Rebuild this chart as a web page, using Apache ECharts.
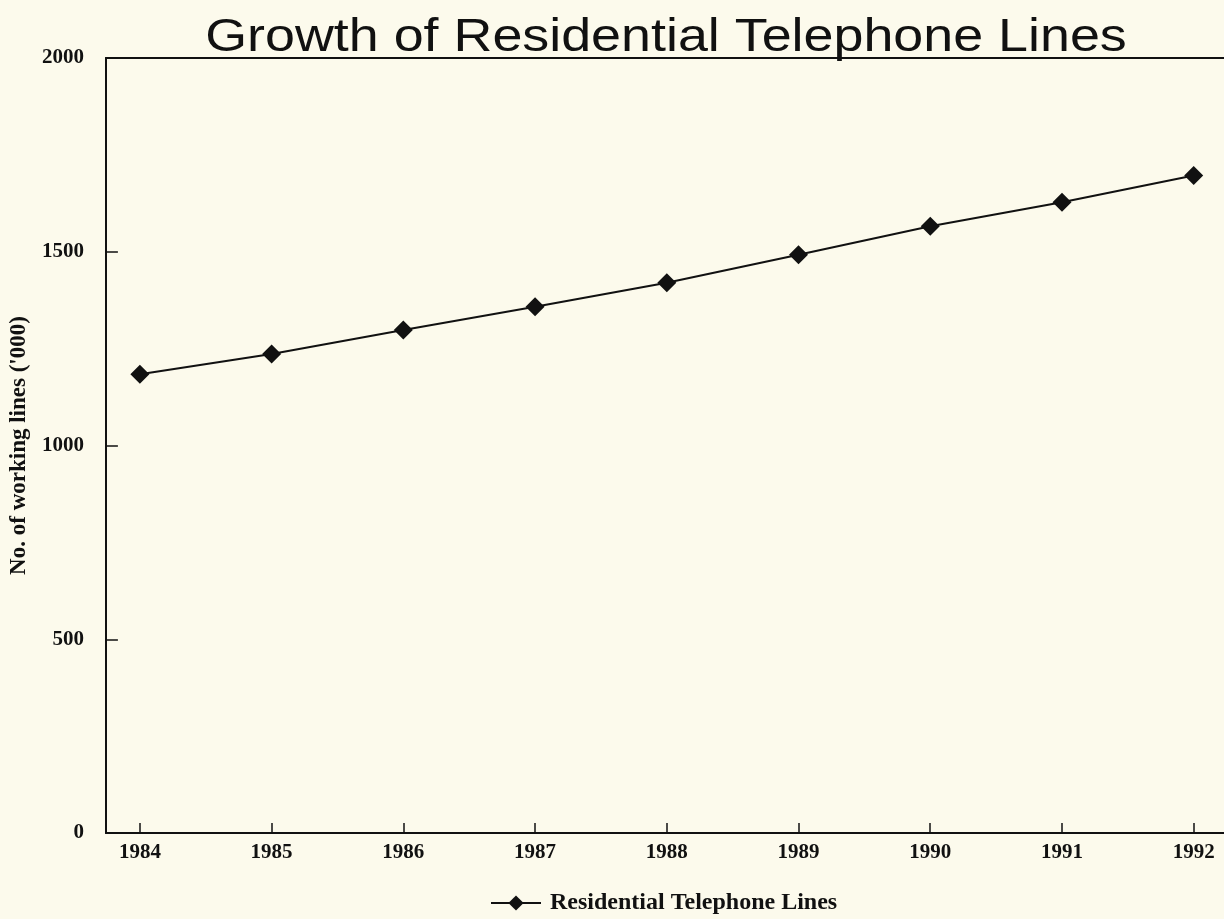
<!DOCTYPE html>
<html>
<head>
<meta charset="utf-8">
<script src="https://cdn.jsdelivr.net/npm/echarts@6/dist/echarts.min.js"></script>
<style>
  html, body { margin: 0; padding: 0; background: #fcfaec; }
  #chart { width: 1224px; height: 919px; }
</style>
</head>
<body>
<div id="chart"></div>
<script>
// 数据
var years = [1984, 1985, 1986, 1987, 1988, 1989, 1990, 1991, 1992];
var lines = [1184, 1236, 1298, 1358, 1420, 1492, 1566, 1628, 1697];
var yTicks = [0, 500, 1000, 1500, 2000];

var serif = "'Liberation Serif', 'DejaVu Serif', serif";
var titleText = "Growth of Residential Telephone Lines";

var chart = echarts.init(document.getElementById("chart"));
chart.setOption({
  backgroundColor: "#fcfaec",
  animation: false,
  // 标题（横向略微拉伸以贴合原图）
  graphic: [
    {
      type: "text",
      x: 666,
      y: 38,
      scaleX: 1.17,
      style: {
        text: titleText,
        font: "46px 'Liberation Sans', Arial, sans-serif",
        fill: "#111",
        textAlign: "center",
        textVerticalAlign: "middle"
      }
    }
  ],
  legend: {
    top: 886,
    left: 485,
    itemWidth: 50,
    itemHeight: 19,
    textStyle: {
      fontFamily: serif,
      fontWeight: "bold",
      fontSize: 24,
      color: "#111",
      padding: [0, 0, 0, 4]
    },
    data: ["Residential Telephone Lines"]
  },
  grid: {
    left: 105,
    right: 0,
    top: 58,
    bottom: 86
  },
  xAxis: [
    {
      type: "value",
      min: 1983.742,
      max: 1992.23,
      splitLine: { show: false },
      axisLine: { lineStyle: { color: "#111", width: 2 } },
      axisTick: {
        inside: true,
        length: 10,
        customValues: years,
        lineStyle: { color: "#111", width: 1.5 }
      },
      axisLabel: {
        customValues: years,
        formatter: function (v) { return String(v); },
        margin: 9,
        fontFamily: serif,
        fontWeight: "bold",
        fontSize: 21,
        color: "#111"
      }
    },
    {
      // 顶部边框线
      type: "value",
      position: "top",
      min: 1983.742,
      max: 1992.23,
      splitLine: { show: false },
      axisLine: { show: true, lineStyle: { color: "#111", width: 2 } },
      axisTick: { show: false },
      axisLabel: { show: false }
    }
  ],
  yAxis: {
    type: "value",
    min: 0,
    max: 2000,
    interval: 500,
    name: "No. of working lines ('000)",
    nameLocation: "middle",
    nameGap: 68,
    nameRotate: 90,
    nameTextStyle: {
      fontFamily: serif,
      fontWeight: "bold",
      fontSize: 23,
      color: "#111"
    },
    splitLine: { show: false },
    axisLine: { show: true, lineStyle: { color: "#111", width: 2 } },
    axisTick: {
      show: true,
      inside: true,
      length: 12,
      lineStyle: { color: "#111", width: 1.5 }
    },
    axisLabel: {
      margin: 22,
      fontFamily: serif,
      fontWeight: "bold",
      fontSize: 21,
      color: "#111",
      formatter: function (v) { return String(v); },
      customValues: yTicks
    }
  },
  series: [
    {
      name: "Residential Telephone Lines",
      type: "line",
      symbol: "diamond",
      symbolSize: 19,
      itemStyle: { color: "#111" },
      lineStyle: { color: "#111", width: 2 },
      data: years.map(function (y, i) { return [y, lines[i]]; })
    }
  ]
});
</script>
</body>
</html>
